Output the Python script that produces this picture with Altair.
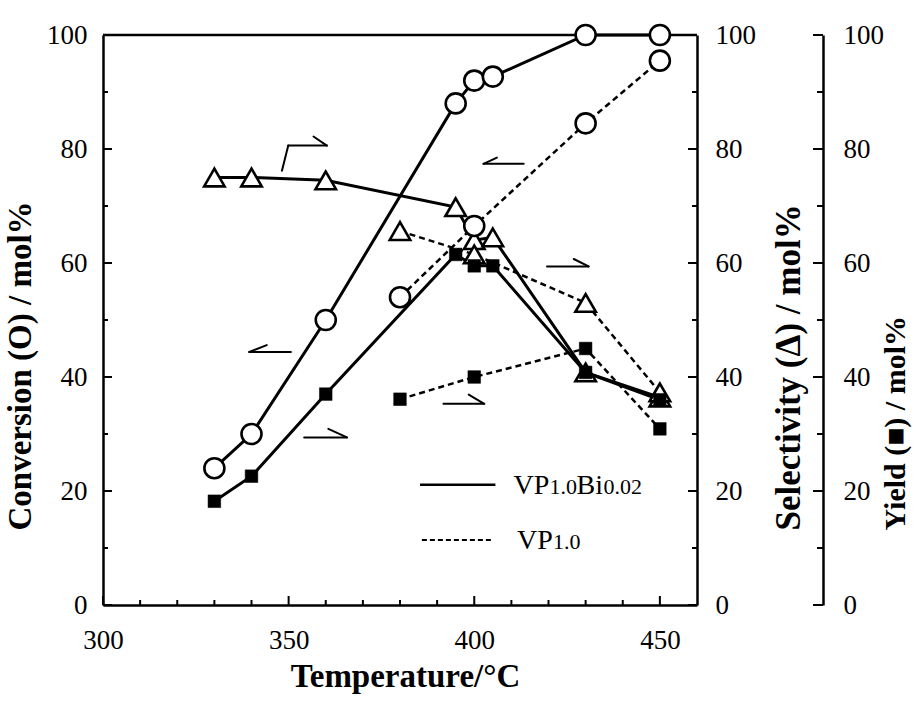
import altair as alt
import pandas as pd

# ---------------- data ----------------
temps_bi = [330, 340, 360, 395, 400, 405, 430, 450]
conv_bi = [24.0, 30.0, 50.0, 88.0, 92.0, 92.7, 100.0, 100.0]
sel_bi = [75.0, 75.0, 74.5, 69.8, 64.0, 64.5, 40.8, 36.4]
yield_bi = [18.2, 22.6, 37.0, 61.5, 59.5, 59.5, 40.8, 36.0]

temps_p = [380, 400, 430, 450]
conv_p = [54.0, 66.5, 84.5, 95.5]
sel_p = [65.6, 61.5, 53.0, 37.3]
yield_p = [36.1, 40.0, 45.0, 30.9]

# axis ticks
x_major = [300, 350, 400, 450]
x_minor = [310, 320, 330, 340, 360, 370, 380, 390, 410, 420, 430, 440]
y_major = [0, 20, 40, 60, 80, 100]
y_minor = [10, 30, 50, 70, 90]

# annotation arrows (data coordinates): start x, start y, end x, end y
arr_x1 = [348.2, 349.9, 360.3, 402.5, 402.5, 419.6, 430.8, 339.4, 339.4, 354.2, 365.7, 391.7, 402.7]
arr_y1 = [76.2, 80.6, 80.6, 77.4, 77.4, 59.4, 59.4, 44.4, 44.4, 29.4, 29.4, 35.3, 35.3]
arr_x2 = [349.9, 360.3, 356.7, 413.3, 406.1, 430.8, 426.8, 350.6, 344.1, 365.7, 360.7, 402.7, 398.5]
arr_y2 = [80.6, 80.6, 82.2, 77.4, 78.5, 59.4, 60.7, 44.4, 45.6, 29.4, 30.9, 35.3, 36.9]

# legend
leg_x1 = [385.4, 385.9]
leg_x2 = [405.7, 405.2]
leg_y = [21.1, 11.4]
leg_text_x = [410.6, 411.5]
leg_cat = ["bi", "p"]

# ---------------- tables ----------------
rows = []
for t, c, s, y in zip(temps_bi, conv_bi, sel_bi, yield_bi):
    rows += [dict(T=t, v=c, kind="conv", cat="bi"),
             dict(T=t, v=s, kind="sel", cat="bi"),
             dict(T=t, v=y, kind="yield", cat="bi")]
for t, c, s, y in zip(temps_p, conv_p, sel_p, yield_p):
    rows += [dict(T=t, v=c, kind="conv", cat="p"),
             dict(T=t, v=s, kind="sel", cat="p"),
             dict(T=t, v=y, kind="yield", cat="p")]
df = pd.DataFrame(rows)
df["key"] = df["kind"] + "_" + df["cat"]

arrows = pd.DataFrame(dict(x1=arr_x1, y1=arr_y1, x2=arr_x2, y2=arr_y2))
legend = pd.DataFrame(dict(x1=leg_x1, x2=leg_x2, y=leg_y, tx=leg_text_x, cat=leg_cat))

SERIF = "Liberation Serif"
W, H = 594, 570
LAB = 27

xsc = alt.Scale(domain=[300, 460], nice=False, zero=False)
ysc = alt.Scale(domain=[0, 100], nice=False, zero=False)

xax = alt.Axis(values=x_major, ticks=False, grid=False, domainColor="black", domainWidth=2.5,
               labelFont=SERIF, labelFontSize=LAB, labelColor="black", labelPadding=22,
               labelFlush=False, title="Temperature/°C", titleFont=SERIF, titleFontSize=33,
               titleFontWeight="bold", titleColor="black", titleX=302, titleY=81,
               titleBaseline="alphabetic", titleAlign="center")
yax = alt.Axis(orient="left", values=y_major, ticks=False, grid=False, domainColor="black",
               domainWidth=2.5, labelFont=SERIF, labelFontSize=LAB, labelColor="black",
               labelPadding=16, title="Conversion (O) / mol%", titleFont=SERIF,
               titleFontSize=33, titleFontWeight="bold", titleColor="black",
               titleAngle=270, titleAlign="left", titleBaseline="bottom",
               titleX=-66, titleY=495)

X = lambda f: alt.X(f, scale=xsc, axis=xax)
Y = lambda f: alt.Y(f, scale=ysc, axis=yax)

base = alt.Chart(df)

solid_lines = base.transform_filter("datum.cat == 'bi'").mark_line(
    color="black", strokeWidth=3).encode(x=X("T:Q"), y=Y("v:Q"), detail="key:N")
dashed_lines = base.transform_filter("datum.cat == 'p'").mark_line(
    color="black", strokeWidth=2.5, strokeDash=[6, 4]).encode(x=X("T:Q"), y=Y("v:Q"), detail="key:N")

triangles = base.transform_filter("datum.kind == 'sel'").mark_point(
    shape="triangle-up", filled=True, fill="white", stroke="black", strokeWidth=2.6,
    size=420, opacity=1).encode(x=X("T:Q"), y=Y("v:Q"))
circles = base.transform_filter("datum.kind == 'conv'").mark_point(
    shape="circle", filled=True, fill="white", stroke="black", strokeWidth=2.6,
    size=400, opacity=1).encode(x=X("T:Q"), y=Y("v:Q"))
squares = base.transform_filter("datum.kind == 'yield'").mark_point(
    shape="square", filled=True, fill="black", stroke="black", strokeWidth=0.5,
    size=160, opacity=1).encode(x=X("T:Q"), y=Y("v:Q"))

arrow_layer = alt.Chart(arrows).mark_rule(color="black", strokeWidth=2, strokeCap="round").encode(
    x=X("x1:Q"), x2="x2:Q", y=Y("y1:Q"), y2="y2:Q")

leg_solid = alt.Chart(legend).transform_filter("datum.cat == 'bi'").mark_rule(
    color="black", strokeWidth=2.5).encode(x=X("x1:Q"), x2="x2:Q", y=Y("y:Q"))
leg_dash = alt.Chart(legend).transform_filter("datum.cat == 'p'").mark_rule(
    color="black", strokeWidth=2.2, strokeDash=[5, 3]).encode(x=X("x1:Q"), x2="x2:Q", y=Y("y:Q"))

big, small = 28, 22
def piece(cat, text, fs, dx):
    return alt.Chart(legend).transform_filter(f"datum.cat == '{cat}'").mark_text(
        text=text, font=SERIF, fontSize=fs, color="black", align="left",
        baseline="alphabetic", dx=dx, dy=9).encode(x=X("tx:Q"), y=Y("y:Q"))

leg_text = [
    piece("bi", "VP", big, 0),
    piece("bi", "1.0", small, 36),
    piece("bi", "Bi", big, 63),
    piece("bi", "0.02", small, 90),
    piece("p", "VP", big, 0),
    piece("p", "1.0", small, 36),
]

def tick_df(vals):
    return pd.DataFrame({"t": vals})

xt_major = alt.Chart(tick_df(x_major)).mark_rule(color="black", strokeWidth=2).encode(
    x=X("t:Q"), y=alt.value(H), y2=alt.value(H - 9))
xt_minor = alt.Chart(tick_df(x_minor)).mark_rule(color="black", strokeWidth=2).encode(
    x=X("t:Q"), y=alt.value(H), y2=alt.value(H - 5))

def ytick(vals, x0, x1):
    return alt.Chart(tick_df(vals)).mark_rule(color="black", strokeWidth=2).encode(
        y=Y("t:Q"), x=alt.value(x0), x2=alt.value(x1))

yield_x = W + 126
yticks = [
    ytick(y_major, 0, 9), ytick(y_minor, 0, 5),
    ytick(y_major, W, W - 9), ytick(y_minor, W, W - 5),
    ytick(y_major, yield_x, yield_x - 10), ytick(y_minor, yield_x, yield_x - 6),
]

top_border = alt.Chart(tick_df([100])).mark_rule(color="black", strokeWidth=2.5).encode(
    y=Y("t:Q"), x=alt.value(0), x2=alt.value(W))

main = alt.layer(
    solid_lines, dashed_lines, arrow_layer, leg_solid, leg_dash, *leg_text,
    xt_major, xt_minor, *yticks, top_border,
    triangles, circles, squares,
)

sel_axis = alt.Chart(tick_df(y_major)).mark_rule(opacity=0).encode(
    y=alt.Y("t:Q", scale=ysc, axis=alt.Axis(
        orient="right", values=y_major, ticks=False, grid=False, domainColor="black",
        domainWidth=2.5, labelFont=SERIF, labelFontSize=LAB, labelColor="black",
        labelPadding=18, title="Selectivity (Δ) / mol%", titleFont=SERIF, titleFontSize=35,
        titleFontWeight="bold", titleColor="black", titleAngle=270, titleBaseline="top",
        titleAlign="left", titleX=74, titleY=495)))

yield_axis = alt.Chart(tick_df(y_major)).mark_rule(opacity=0).encode(
    y=alt.Y("t:Q", scale=ysc, axis=alt.Axis(
        orient="right", offset=126, values=y_major, ticks=False, grid=False,
        domainColor="black", domainWidth=2.5, labelFont=SERIF, labelFontSize=LAB,
        labelColor="black", labelPadding=20, title="Yield (■) / mol%", titleFont=SERIF,
        titleFontSize=30, titleFontWeight="bold", titleColor="black", titleAngle=270,
        titleBaseline="top", titleAlign="left", titleX=57, titleY=495)))

chart = alt.layer(main, sel_axis, yield_axis).resolve_scale(y="independent").properties(
    width=W, height=H,
    autosize=alt.AutoSizeParams(type="none"),
    padding={"left": 103, "top": 35, "right": 217, "bottom": 100},
    background="white",
).configure_view(stroke=None)

chart.save("out.html", embed_options={"renderer": "svg", "actions": False})
